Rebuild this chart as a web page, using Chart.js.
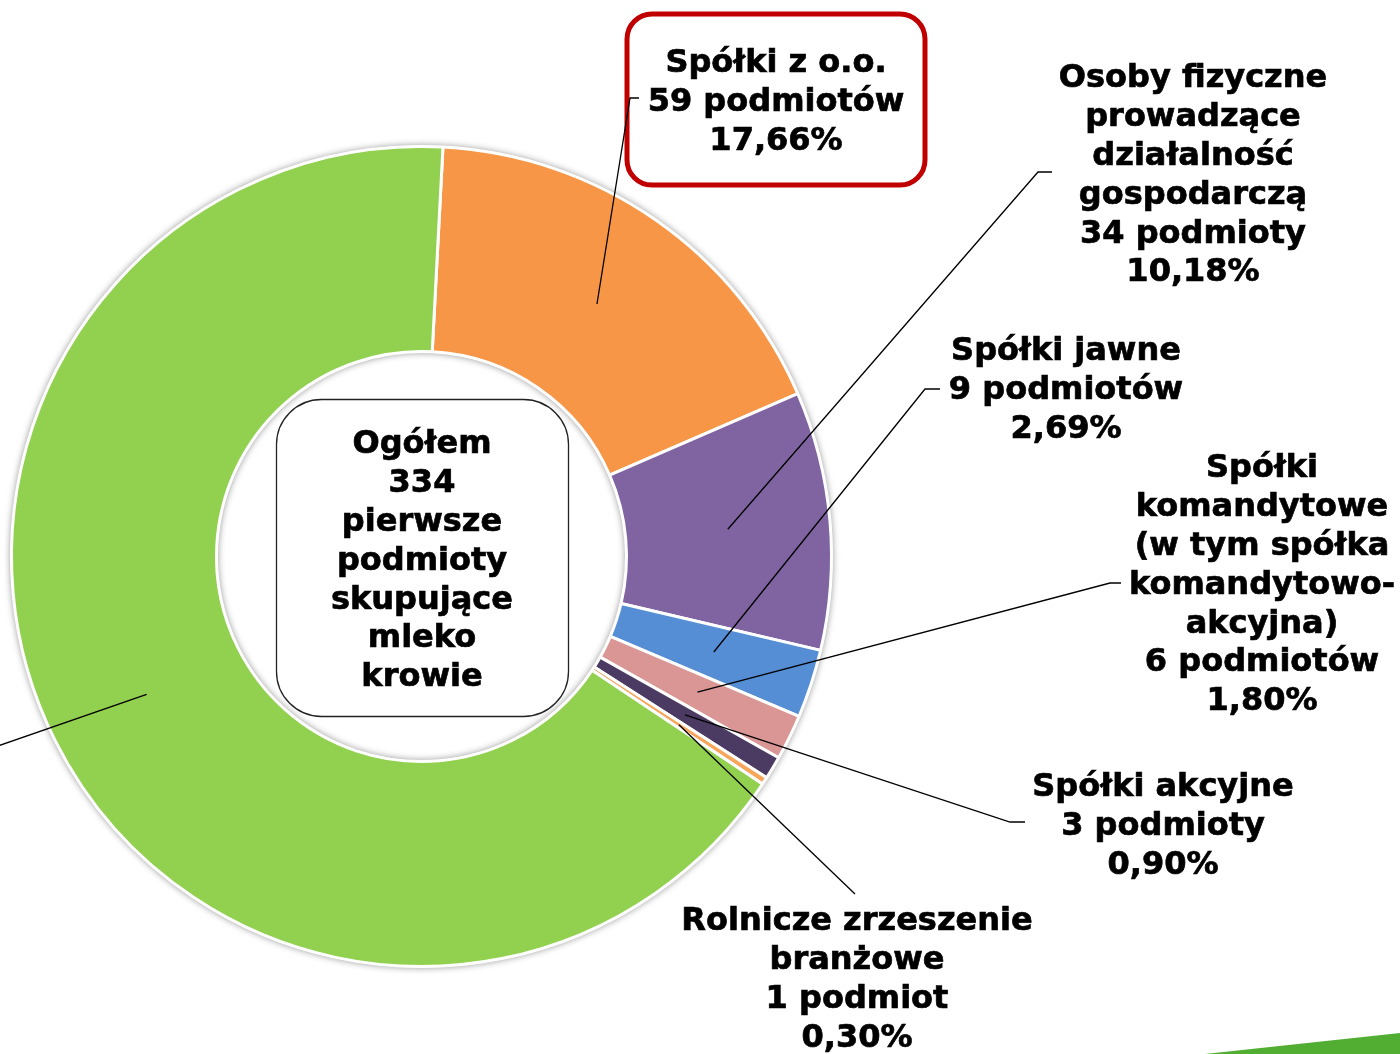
<!DOCTYPE html>
<html lang="pl">
<head>
<meta charset="utf-8">
<title>Pierwsze podmioty skupujące mleko krowie</title>
<script src="https://cdn.jsdelivr.net/npm/chart.js@4.4.1/dist/chart.umd.min.js"></script>
<style>
  html, body { margin: 0; padding: 0; background: #fff; }
  #wrap { position: relative; width: 1400px; height: 1054px; overflow: hidden; }
</style>
</head>
<body>
<div id="wrap"><canvas id="chart" width="1400" height="1054"></canvas></div>
<script>
// Data
const CATEGORIES = ["Spółki z o.o.", "Osoby fizyczne prowadzące działalność gospodarczą", "Spółki jawne",
  "Spółki komandytowe (w tym spółka komandytowo-akcyjna)", "Spółki akcyjne", "Rolnicze zrzeszenie branżowe",
  "Spółdzielnie mleczarskie"];
const COUNTS = [59, 34, 9, 6, 3, 1, 222];
const COUNT_LABELS = ["59 podmiotów", "34 podmioty", "9 podmiotów", "6 podmiotów", "3 podmioty", "1 podmiot", "222 podmioty"];
const PERCENTS = ["17,66%", "10,18%", "2,69%", "1,80%", "0,90%", "0,30%", "66,47%"];
const NAME_LINES = [
  ["Spółki z o.o."],
  ["Osoby fizyczne", "prowadzące", "działalność", "gospodarczą"],
  ["Spółki jawne"],
  ["Spółki", "komandytowe", "(w tym spółka", "komandytowo-", "akcyjna)"],
  ["Spółki akcyjne"],
  ["Rolnicze zrzeszenie", "branżowe"],
  null // label of the green slice lies outside the picture
];
const CENTER_LINES = ["Ogółem", "334", "pierwsze", "podmioty", "skupujące", "mleko", "krowie"];
const COLORS = ["#F79646", "#8064A2", "#558ED5", "#D99694", "#4B3A62", "#F9A65A", "#92D050"];

// Label placement (centre x, centre y of first line, leader elbow points)
const LABEL_POS = [
  {x: 776, y: 64, elbow: [[630, 98], [639, 98]], box: [625, 12, 302, 175]},
  {x: 1193, y: 79, elbow: [[1038, 172], [1052, 172]]},
  {x: 1066, y: 352, elbow: [[925, 389], [940, 389]]},
  {x: 1262, y: 469, elbow: [[1110, 583], [1121, 583]]},
  {x: 1163, y: 788, elbow: [[1010, 822], [1025, 822]]},
  {x: 857, y: 922, elbow: [[855, 894]]},
  {x: null, y: null, elbow: [[-5, 747]]}
];
const FONT = "bold 32px 'DejaVu Sans', Verdana, sans-serif";
const LINE_H = 38.8;

function drawLines(ctx, lines, x, y) {
  ctx.font = FONT;
  ctx.fillStyle = "#000";
  ctx.strokeStyle = "#000";
  ctx.lineWidth = 0.7;
  ctx.textAlign = "center";
  ctx.textBaseline = "middle";
  lines.forEach((t, i) => {
    ctx.fillText(t, x, y + i * LINE_H);
    ctx.strokeText(t, x, y + i * LINE_H);
  });
}

// soft shadow round the ring, like the original picture
const ringShadow = {
  id: "ringShadow",
  beforeDatasetsDraw(chart) {
    const arc = chart.getDatasetMeta(0).data[0];
    if (!arc) return;
    const {x, y, outerRadius, innerRadius} = arc.getProps(["x", "y", "outerRadius", "innerRadius"], true);
    const ctx = chart.ctx;
    ctx.save();
    ctx.beginPath();
    ctx.arc(x, y, outerRadius + 1, 0, Math.PI * 2);
    ctx.arc(x, y, innerRadius - 1, 0, Math.PI * 2, true);
    ctx.shadowColor = "rgba(0,0,0,0.45)";
    ctx.shadowBlur = 7;
    ctx.fillStyle = "#fff";
    ctx.fill("evenodd");
    ctx.restore();
  }
};

const labels = {
  id: "labels",
  afterDatasetsDraw(chart) {
    const ctx = chart.ctx;
    const meta = chart.getDatasetMeta(0);

    // centre box
    ctx.save();
    ctx.beginPath();
    ctx.roundRect(276.5, 399.5, 292, 317, 45);
    ctx.fillStyle = "#fff";
    ctx.fill();
    ctx.lineWidth = 1.3;
    ctx.strokeStyle = "#222";
    ctx.stroke();
    drawLines(ctx, CENTER_LINES, 422, 445);

    // highlighted box
    LABEL_POS.forEach(p => {
      if (!p.box) return;
      const [bx, by, bw, bh] = p.box;
      ctx.beginPath();
      ctx.roundRect(bx + 2, by + 2, bw - 4, bh - 4, 25);
      ctx.fillStyle = "#fff";
      ctx.fill();
      ctx.lineWidth = 5;
      ctx.strokeStyle = "#C00000";
      ctx.stroke();
    });

    // leader lines from the middle of each slice
    meta.data.forEach((arc, i) => {
      const start = arc.tooltipPosition(true);
      ctx.beginPath();
      ctx.moveTo(start.x, start.y);
      LABEL_POS[i].elbow.forEach(pt => ctx.lineTo(pt[0], pt[1]));
      ctx.lineWidth = 1.3;
      ctx.strokeStyle = "#000";
      ctx.stroke();
    });

    // slice labels
    COUNTS.forEach((v, i) => {
      const p = LABEL_POS[i];
      if (!NAME_LINES[i] || p.x === null) return;
      drawLines(ctx, NAME_LINES[i].concat([COUNT_LABELS[i], PERCENTS[i]]), p.x, p.y);
    });

    // green corner decoration
    ctx.beginPath();
    ctx.moveTo(1205, 1054);
    ctx.lineTo(1400, 1033);
    ctx.lineTo(1400, 1054);
    ctx.closePath();
    ctx.fillStyle = "#52AE32";
    ctx.fill();
    ctx.restore();
  }
};

new Chart(document.getElementById("chart"), {
  type: "doughnut",
  data: {
    labels: CATEGORIES,
    datasets: [{
      data: COUNTS,
      backgroundColor: COLORS,
      borderColor: "#fff",
      borderWidth: 3
    }]
  },
  options: {
    responsive: false,
    animation: false,
    cutout: "50%",
    rotation: 3,
    layout: { padding: { left: 10, right: 567, top: 145, bottom: 86 } },
    plugins: { legend: { display: false }, tooltip: { enabled: false } }
  },
  plugins: [ringShadow, labels]
});
</script>
</body>
</html>
